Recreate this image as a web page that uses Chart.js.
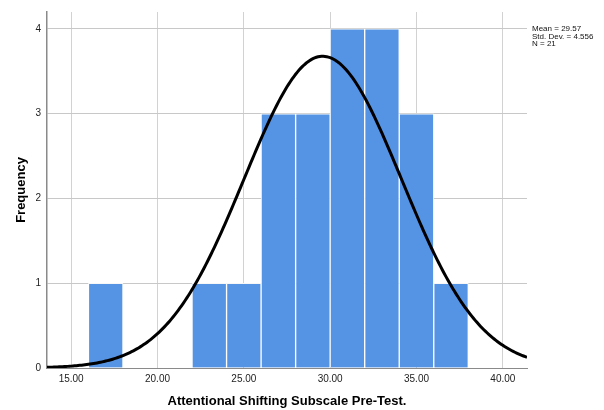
<!DOCTYPE html>
<html>
<head>
<meta charset="utf-8">
<script src="https://cdn.jsdelivr.net/npm/chart.js@4.4.1/dist/chart.umd.min.js"></script>
<style>
  html, body { margin: 0; padding: 0; background: #fff; }
  canvas { display: block; }
</style>
</head>
<body>
<canvas id="histChart" width="604" height="410"></canvas>
<script>
// --- Data ---
const binCenters = [17, 19, 21, 23, 25, 27, 29, 31, 33, 35, 37];
const binCounts  = [1, 0, 0, 1, 1, 3, 3, 4, 4, 3, 1];
const binWidth = 2;
const xTicks = [15, 20, 25, 30, 35, 40];
const yTicks = [0, 1, 2, 3, 4];
const statMean = 29.57;
const statSD = 4.556;
const statN = 21;

const xMin = 13.6, xMax = 41.4;

// normal curve scaled to the histogram (N * bin width * pdf)
const curvePoints = [];
for (let i = 0; i <= 278; i++) {
    const x = xMin + i * 0.1;
    const z = (x - statMean) / statSD;
    const y = statN * binWidth * Math.exp(-0.5 * z * z) / (statSD * Math.sqrt(2 * Math.PI));
    curvePoints.push({ x: x, y: y });
}

// --- Stats box on the right ---
const statsText = {
    id: 'statsText',
    afterDraw(chart) {
        const ctx = chart.ctx;
        ctx.save();
        ctx.font = '8px "Liberation Sans", Arial, sans-serif';
        ctx.fillStyle = '#111';
        ctx.textBaseline = 'alphabetic';
        ctx.textAlign = 'left';
        const lines = [
            'Mean = ' + statMean.toFixed(2),
            'Std. Dev. = ' + statSD.toFixed(3),
            'N = ' + statN
        ];
        lines.forEach((t, i) => ctx.fillText(t, 532, 31 + i * 7.5));
        ctx.restore();
    }
};

const ctx = document.getElementById('histChart').getContext('2d');

new Chart(ctx, {
    type: 'bar',
    data: {
        datasets: [
            {
                type: 'line',
                data: curvePoints,
                borderColor: '#000',
                borderWidth: 3,
                pointRadius: 0,
                tension: 0,
                fill: false,
                order: 0
            },
            {
                type: 'bar',
                data: binCenters.map((c, i) => ({ x: c, y: binCounts[i] })),
                backgroundColor: '#5593e4',
                borderColor: 'rgba(255,255,255,0.85)',
                borderWidth: 1,
                barPercentage: 1,
                categoryPercentage: 1,
                order: 1
            }
        ]
    },
    options: {
        responsive: false,
        animation: false,
        layout: { padding: { top: 10, right: 77, left: 0, bottom: 0 } },
        plugins: {
            legend: { display: false },
            tooltip: { enabled: false }
        },
        scales: {
            x: {
                type: 'linear',
                min: xMin,
                max: xMax,
                offset: false,
                afterBuildTicks: (scale) => { scale.ticks = xTicks.map(v => ({ value: v })); },
                afterFit: (scale) => { scale.height = 42; },
                grid: { color: '#d2d2d2', drawTicks: false, offset: false },
                border: { color: '#8a8a8a', width: 1 },
                ticks: {
                    padding: 5,
                    color: '#222',
                    font: { family: '"Liberation Sans", Arial, sans-serif', size: 10 },
                    callback: (v) => Number(v).toFixed(2),
                    maxRotation: 0
                },
                title: {
                    display: true,
                    text: 'Attentional Shifting Subscale Pre-Test.',
                    color: '#000',
                    font: { family: '"Liberation Sans", Arial, sans-serif', size: 13, weight: 'bold' },
                    padding: { top: 0, bottom: 1 }
                }
            },
            y: {
                min: 0,
                max: 4.2,
                afterBuildTicks: (scale) => { scale.ticks = yTicks.map(v => ({ value: v })); },
                afterFit: (scale) => { scale.width = 47; },
                grid: { color: '#c8c8c8', drawTicks: false },
                border: { color: '#8a8a8a', width: 1.5 },
                ticks: {
                    padding: 6,
                    color: '#222',
                    font: { family: '"Liberation Sans", Arial, sans-serif', size: 10 }
                },
                title: {
                    display: true,
                    text: 'Frequency',
                    color: '#000',
                    font: { family: '"Liberation Sans", Arial, sans-serif', size: 13, weight: 'bold' },
                    padding: { top: 14, bottom: 0 }
                }
            }
        }
    },
    plugins: [statsText]
});
</script>
</body>
</html>
